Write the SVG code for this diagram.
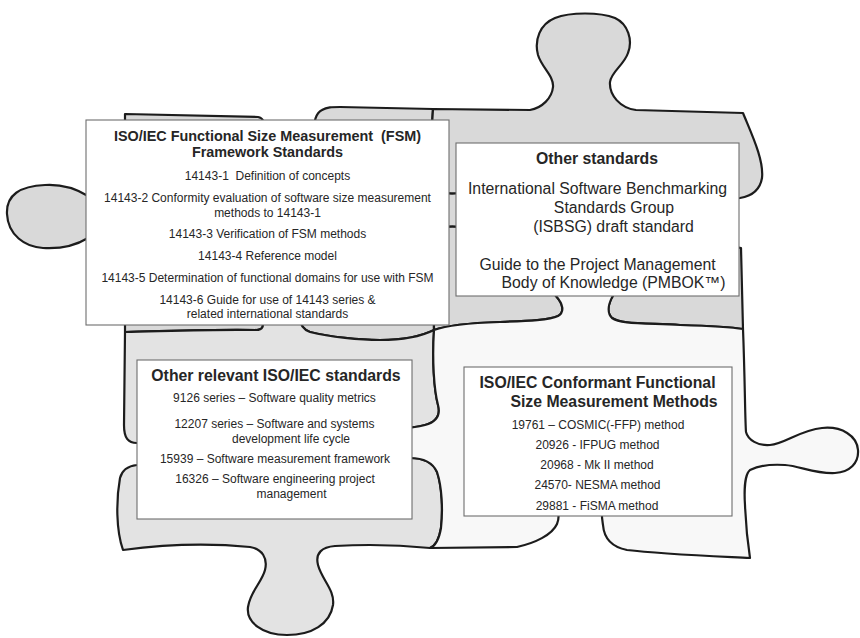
<svg xmlns="http://www.w3.org/2000/svg" width="860" height="638" viewBox="0 0 860 638">
  <style>
    .piece { stroke: #1c1c1c; stroke-width: 2.2; stroke-linejoin: round; stroke-linecap: round; }
    .dark { fill: #d9d9d9; }
    .mid { fill: #e3e3e3; }
    .light { fill: #f8f8f8; }
    .box { fill: #ffffff; stroke: #6e6e6e; stroke-width: 1.1; }
    text { font-family: "Liberation Sans", Arial, Helvetica, sans-serif; fill: #262626; text-anchor: middle; }
    .h1 { font-size: 14.4px; font-weight: bold; }
    .h2 { font-size: 15.8px; font-weight: bold; }
    .big { font-size: 15.8px; }
    .t { font-size: 12px; }
  </style>

  <!-- jigsaw pieces behind the text panels -->
  <g id="puzzle-pieces">
    <!-- top-left piece -->
    <path id="piece-top-left" class="piece dark" d="M125,114 L258,117 C263,118 265,122 263,128 C258,145 262,160 288,162 C312,163 318,148 315,132 C313,122 316,113 322,110 C327,107 332,107 340,107 L433,109
      L432,125 L433,188 C436,193 445,194 460,193 C478,192 488,176 503,182 C520,190 522,228 505,238 C490,246 476,228 460,227 C448,226 438,227 433,232 L434,330
      C420,337 400,340 380,340 C360,340 330,337 310,332 C302,329 300,324 300,318 C300,310 312,292 302,284 C292,276 272,276 262,282 C250,290 255,300 262,320 C264,326 263,330 256,330 C220,329 170,331 125,332
      L125,240 C110,240 100,236 88,238 C75,246 60,249 43,248 C25,247 8,235 7,214 C6,195 20,186 45,185 C62,184 75,188 88,196 C100,202 110,198 125,198 Z"/>
    <!-- top-right piece -->
    <path id="piece-top-right" class="piece dark" d="M433,109 L530,110 C542,108 552,98 553,87 C554,76 542,68 538,55 C534,40 540,24 555,18 C570,12 600,12 615,18 C628,24 633,40 628,53 C624,65 611,72 610,82 C609,95 620,108 636,110 L743,113
      C752,135 764,160 762,178 C760,190 752,196 740,198 C730,199 724,196 720,205 C716,214 708,212 708,222 C708,234 718,232 722,240 C726,246 733,247 741,248 L743,329
      C730,327 710,326 680,325 C640,323 620,324 612,318 C606,312 609,302 614,294 C620,285 625,270 610,262 C595,256 575,256 560,262 C540,270 545,285 556,296 C563,304 565,312 558,316 C550,320 530,321 500,322 C470,323 445,326 434,330
      L433,232 C438,227 448,226 460,227 C476,228 490,246 505,238 C522,228 520,190 503,182 C488,176 478,192 460,193 C445,194 436,193 433,188 L432,125 Z"/>
    <!-- bottom-left piece -->
    <path id="piece-bottom-left" class="piece mid" d="M125,332 C170,331 220,329 256,330 C263,330 264,326 262,320 C255,300 250,290 262,282 C272,276 292,276 302,284 C312,292 300,310 300,318 C300,324 302,329 310,332 C330,337 360,340 380,340 C400,340 420,337 434,330
      C432,360 434,390 438,405 C441,416 436,422 425,425 C418,427 414,427 408,428 C395,430 388,418 378,430 C370,440 370,450 378,460 C386,468 396,458 410,458 C422,458 432,461 437,472 C442,487 443,510 441,528 C439,540 435,546 430,548
      C400,545 370,544 335,546 C322,547 315,553 318,565 C322,580 335,590 333,605 C330,624 312,635 287,635 C262,635 246,622 248,607 C250,592 262,582 265,570 C268,558 262,549 250,547 C200,542 160,545 123,550
      C116,530 116,500 120,478 C122,470 128,466 137,465 C150,463 165,470 165,455 C165,445 150,442 137,443 C128,443 124,438 124,425 Z"/>
    <!-- bottom-right piece -->
    <path id="piece-bottom-right" class="piece light" d="M434,330 C445,326 470,323 500,322 C530,321 550,320 558,316 C565,312 563,304 556,296 C545,285 540,270 560,262 C575,256 595,256 610,262 C625,270 620,285 614,294 C609,302 606,312 612,318 C620,324 640,323 680,325 C710,326 730,327 743,329
      C745,380 745,420 746,432 C748,440 758,446 770,445 C785,444 800,430 822,428 C842,426 857,436 858,450 C859,463 850,472 835,473 C815,474 800,466 785,465 C770,464 758,466 750,470 C745,474 744,490 745,505 C746,530 748,545 750,558
      C710,556 660,554 627,550 C612,547 604,538 603,525 C602,518 600,510 606,500 C612,490 605,475 580,475 C555,475 545,490 552,500 C558,508 560,517 557,524 C552,535 535,543 517,547 L430,548
      C435,546 439,540 441,528 C443,510 442,487 437,472 C432,461 422,458 410,458 C396,458 386,468 378,460 C370,450 370,440 378,430 C388,418 395,430 408,428 C414,427 418,427 425,425 C436,422 441,416 438,405 C434,390 432,360 434,330 Z"/>
  </g>

  <!-- FSM framework standards panel -->
  <g id="fsm-framework">
    <rect class="box" x="86" y="120" width="363" height="205"/>
    <text class="h1" x="267.5" y="141">ISO/IEC Functional Size Measurement&#160; (FSM)</text>
    <text class="h1" x="267.5" y="157">Framework Standards</text>
    <text class="t" x="267.5" y="179.5">14143-1&#160; Definition of concepts</text>
    <text class="t" x="267.5" y="201.5">14143-2 Conformity evaluation of software size measurement</text>
    <text class="t" x="267.5" y="216.5">methods to 14143-1</text>
    <text class="t" x="267.5" y="237.5">14143-3 Verification of FSM methods</text>
    <text class="t" x="267.5" y="259.5">14143-4 Reference model</text>
    <text class="t" x="267.5" y="281.5">14143-5 Determination of functional domains for use with FSM</text>
    <text class="t" x="267.5" y="303.5">14143-6 Guide for use of 14143 series &amp;</text>
    <text class="t" x="267.5" y="317.5">related international standards</text>
  </g>

  <!-- other standards panel -->
  <g id="other-standards">
    <rect class="box" x="456" y="143" width="283" height="153"/>
    <text class="h2" x="597" y="163.5">Other standards</text>
    <text class="big" x="597.5" y="193.5">International Software Benchmarking</text>
    <text class="big" x="614" y="212.5">Standards Group</text>
    <text class="big" x="613.5" y="231.5">(ISBSG) draft standard</text>
    <text class="big" x="597.5" y="269.5">Guide to the Project Management</text>
    <text class="big" x="613.5" y="287.5">Body of Knowledge (PMBOK™)</text>
  </g>

  <!-- other relevant ISO/IEC standards panel -->
  <g id="other-iso-iec">
    <rect class="box" x="137" y="360" width="275" height="159"/>
    <text class="h2" x="276" y="380.5">Other relevant ISO/IEC standards</text>
    <text class="t" x="274.5" y="401.5">9126 series – Software quality metrics</text>
    <text class="t" x="274.5" y="427.5">12207 series – Software and systems</text>
    <text class="t" x="291" y="442.5">development life cycle</text>
    <text class="t" x="275" y="462.5">15939 – Software measurement framework</text>
    <text class="t" x="275" y="482.5">16326 – Software engineering project</text>
    <text class="t" x="291.5" y="497.5">management</text>
  </g>

  <!-- conformant FSM methods panel -->
  <g id="conformant-methods">
    <rect class="box" x="464" y="367" width="268" height="149"/>
    <text class="h2" x="597.5" y="387.5">ISO/IEC Conformant Functional</text>
    <text class="h2" x="614" y="406.5">Size Measurement Methods</text>
    <text class="t" x="598" y="428.5">19761 – COSMIC(-FFP) method</text>
    <text class="t" x="597.5" y="448.5">20926 - IFPUG method</text>
    <text class="t" x="597" y="468.5">20968 - Mk II method</text>
    <text class="t" x="597.5" y="488.5">24570- NESMA method</text>
    <text class="t" x="597" y="509.5">29881 - FiSMA method</text>
  </g>
</svg>
